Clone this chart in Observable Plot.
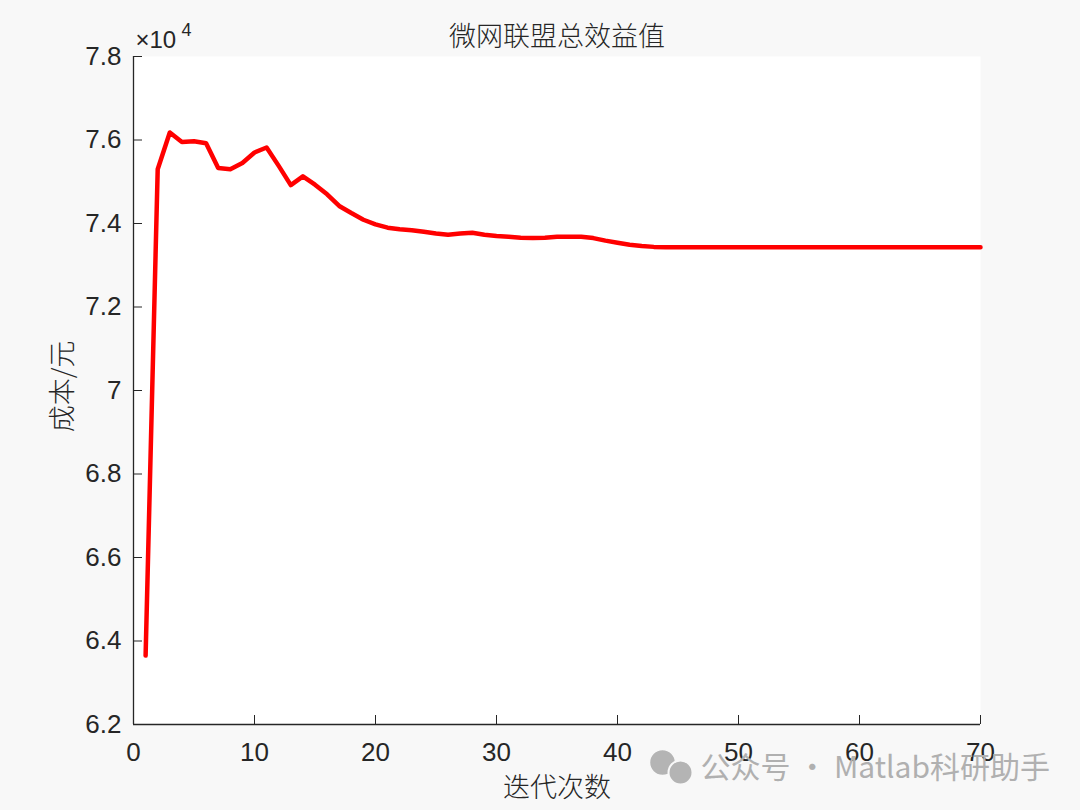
<!DOCTYPE html>
<html>
<head>
<meta charset="utf-8">
<script src="https://cdn.jsdelivr.net/npm/d3@7"></script>
<script src="https://cdn.jsdelivr.net/npm/@observablehq/plot@0.6"></script>
<style>
  html, body { margin: 0; padding: 0; background: #f8f8f8; }
  #chart { width: 1080px; height: 810px; }
</style>
</head>
<body>
<div id="chart"></div>
<script>
const iterations = d3.range(1, 71);
const benefit = [
  63650, 75300, 76180, 75950, 75970, 75920, 75330, 75300, 75450, 75700,
  75820, 75380, 74920, 75130, 74930, 74700, 74420, 74250, 74090, 73980,
  73900, 73860, 73840, 73800, 73760, 73730, 73760, 73780, 73730, 73700,
  73680, 73660, 73650, 73660, 73680, 73680, 73680, 73650, 73590, 73540,
  73490, 73460, 73440, 73430, 73430, 73430, 73430, 73430, 73430, 73430,
  73430, 73430, 73430, 73430, 73430, 73430, 73430, 73430, 73430, 73430,
  73430, 73430, 73430, 73430, 73430, 73430, 73430, 73430, 73430, 73430
];
const xTicks = [0, 10, 20, 30, 40, 50, 60, 70];
const yTicks = [62000, 64000, 66000, 68000, 70000, 72000, 74000, 76000, 78000];
const titleText = "微网联盟总效益值";
const xLabel = "迭代次数";
const yLabel = "成本/元";
const watermark = "公众号 · Matlab科研助手";

const data = iterations.map((it, i) => ({it, v: benefit[i]}));

const W = 1080, H = 810;
const mL = 133, mR = 100, mT = 56, mB = 86;
const pw = W - mL - mR, ph = H - mT - mB;
const tickFont = "'Liberation Sans', Arial, sans-serif";
const cjk = "'Noto Sans CJK SC', sans-serif";
const ink = "#262626";

const chart = Plot.plot({
  width: W, height: H,
  marginLeft: mL, marginRight: mR, marginTop: mT, marginBottom: mB,
  style: {background: "transparent", fontFamily: tickFont, color: ink},
  x: {domain: [0, 70], ticks: xTicks},
  y: {domain: [62000, 78000], ticks: yTicks},
  marks: [
    Plot.frame({fill: "white", stroke: null}),
    Plot.axisX({ticks: xTicks, tickSize: 0, tickPadding: 18, fontSize: 26, label: null, fill: ink}),
    Plot.axisY({ticks: yTicks, tickSize: 0, tickPadding: 12, fontSize: 26, label: null, fill: ink,
      tickFormat: d => String(+(d / 1e4).toFixed(1))}),
    Plot.ruleX(xTicks, {stroke: ink, strokeWidth: 1, insetTop: ph - 9}),
    Plot.ruleY(yTicks, {stroke: ink, strokeWidth: 1, insetRight: pw - 9}),
    Plot.ruleY([62000], {stroke: ink, strokeWidth: 1.3}),
    Plot.ruleX([0], {stroke: ink, strokeWidth: 1.3}),
    Plot.line(data, {x: "it", y: "v", stroke: "#ff0000", strokeWidth: 4.5, strokeLinejoin: "round"}),
    Plot.text([titleText], {frameAnchor: "top", lineAnchor: "middle", dy: -19, fontSize: 27, fontFamily: cjk, fill: ink, fontWeight: 300}),
    Plot.text([xLabel], {frameAnchor: "bottom", lineAnchor: "middle", dy: 64, fontSize: 27, fontFamily: cjk, fill: ink, fontWeight: 300}),
    Plot.text([yLabel], {frameAnchor: "left", textAnchor: "middle", lineAnchor: "middle", dx: -70, dy: -4, rotate: -90, fontSize: 27, fontFamily: cjk, fill: ink, fontWeight: 300}),
    Plot.text(["×10"], {frameAnchor: "top-left", textAnchor: "start", lineAnchor: "middle", dx: 2, dy: -16, fontSize: 24, fill: ink}),
    Plot.text(["4"], {frameAnchor: "top-left", textAnchor: "start", lineAnchor: "middle", dx: 48, dy: -26, fontSize: 18, fill: ink}),
    Plot.dot([0], {frameAnchor: "bottom-right", dx: -318, dy: 38, r: 13, fill: "#b4b4b4", stroke: "#f8f8f8", strokeWidth: 1.5}),
    Plot.dot([0], {frameAnchor: "bottom-right", dx: -300, dy: 48, r: 12, fill: "#b4b4b4", stroke: "#f8f8f8", strokeWidth: 2}),
    Plot.text([watermark], {frameAnchor: "bottom-right", textAnchor: "start", lineAnchor: "middle", dx: -280, dy: 44, fontSize: 30, fontFamily: cjk, fill: "#b0b0b0"})
  ]
});
// make sure tick labels get the intended size
d3.select(chart).selectAll('g[aria-label="x-axis tick label"], g[aria-label="y-axis tick label"]')
  .attr("font-size", 26).style("font-size", "26px");
document.getElementById("chart").appendChild(chart);
</script>
</body>
</html>
